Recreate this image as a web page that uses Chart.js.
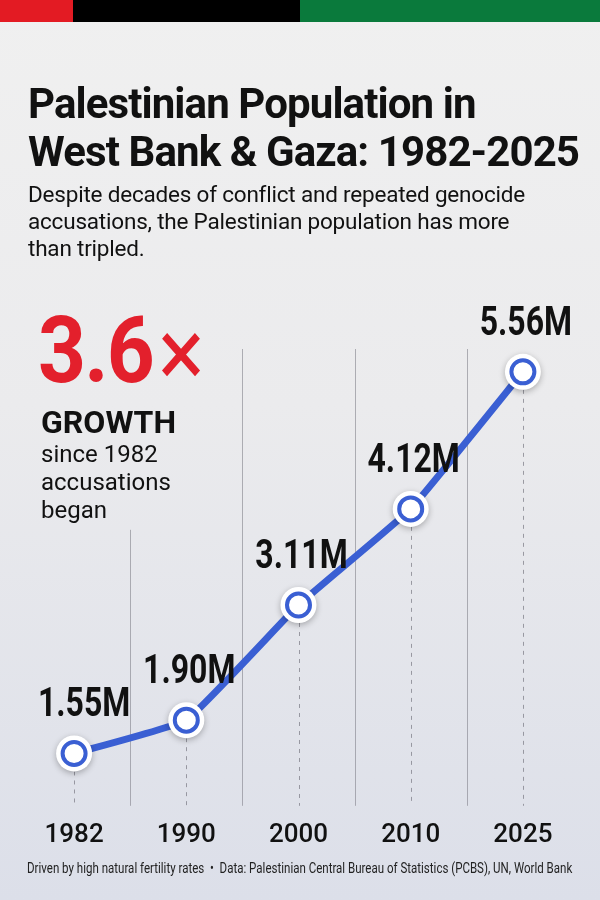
<!DOCTYPE html>
<html>
<head>
<meta charset="utf-8">
<script src="https://cdn.jsdelivr.net/npm/chart.js@4.4.1/dist/chart.umd.min.js"></script>
<style>
  html, body { margin: 0; padding: 0; }
  body {
    width: 600px; height: 900px; position: relative; overflow: hidden;
    background: linear-gradient(180deg, #f0f0f0 0%, #ebebed 45%, #dcdfe9 100%);
    font-family: Roboto, "Noto Sans", sans-serif; color: #111;
  }
  .stripe { position: absolute; top: 0; left: 0; width: 600px; height: 22px; display: flex; }
  .stripe div { height: 100%; }
  h1 {
    position: absolute; left: 28px; top: 80px; margin: 0;
    font-size: 42px; line-height: 48px; font-weight: 700; letter-spacing: -0.9px;
  }
  .sub {
    position: absolute; left: 28px; top: 181px; margin: 0; width: 570px;
    font-size: 22.5px; line-height: 27px; letter-spacing: -0.2px;
  }
  .big {
    position: absolute; left: 38px; top: 304px; font-size: 93px; line-height: 93px;
    font-weight: 700; color: #e3202c; transform: scaleX(0.9); transform-origin: left;
    letter-spacing: -2px; white-space: nowrap;
  }
  .big span { font-weight: 400; font-size: 96px; vertical-align: -4px; margin-left: 6px; }
  .growth {
    position: absolute; left: 41px; top: 406px; font-size: 32px; line-height: 32px; font-weight: 700;
  }
  .since {
    position: absolute; left: 41px; top: 440px; font-size: 24px; line-height: 28px;
  }
  #wrap { position: absolute; left: 0; top: 0; width: 600px; height: 900px; }
  .foot {
    position: absolute; left: 27px; top: 860px; transform-origin: left;
    font-size: 14px; color: #222; white-space: nowrap;
  }
</style>
</head>
<body>
<div class="stripe">
  <div style="width:73px;background:#e31b23"></div>
  <div style="width:227px;background:#000"></div>
  <div style="width:300px;background:#0a7a3c"></div>
</div>
<div id="wrap"><canvas id="chart"></canvas></div>
<h1>Palestinian Population in<br>West Bank &amp; Gaza: 1982-2025</h1>
<p class="sub">Despite decades of conflict and repeated genocide<br>accusations, the Palestinian population has more<br>than tripled.</p>
<div class="big">3.6<span>×</span></div>
<div class="growth">GROWTH</div>
<div class="since">since 1982<br>accusations<br>began</div>
<div class="foot" id="foot">Driven by high natural fertility rates &nbsp;•&nbsp; Data: Palestinian Central Bureau of Statistics (PCBS), UN, World Bank</div>

<script>
// data
const years = ["1982", "1990", "2000", "2010", "2025"];
const population = [1.55, 1.90, 3.11, 4.12, 5.56];
const labels = ["1.55M", "1.90M", "3.11M", "4.12M", "5.56M"];

const blue = "#3a5fd3";

// squeeze the footer into the same width as the reference
const foot = document.getElementById("foot");
foot.style.transform = "scaleX(" + (545 / foot.offsetWidth) + ")";

// vertical separators between years + dashed drop lines under each point
const guides = {
  id: "guides",
  beforeDatasetsDraw(chart) {
    const { ctx, chartArea } = chart;
    const meta = chart.getDatasetMeta(0);
    const y = chart.scales.y;
    ctx.save();
    ctx.lineWidth = 1;
    ctx.strokeStyle = "rgba(120,120,130,0.55)";
    for (let i = 1; i < meta.data.length; i++) {
      const x = (meta.data[i - 1].x + meta.data[i].x) / 2;
      // first one stops under the "GROWTH" note
      const top = i === 1 ? y.getPixelForValue(3.9) : chartArea.top;
      ctx.beginPath();
      ctx.moveTo(Math.round(x) + 0.5, top);
      ctx.lineTo(Math.round(x) + 0.5, chartArea.bottom);
      ctx.stroke();
    }
    ctx.setLineDash([4, 5]);
    ctx.strokeStyle = "rgba(120,120,130,0.7)";
    meta.data.forEach(pt => {
      ctx.beginPath();
      ctx.moveTo(Math.round(pt.x) + 0.5, pt.y);
      ctx.lineTo(Math.round(pt.x) + 0.5, chartArea.bottom);
      ctx.stroke();
    });
    ctx.restore();
  },
  beforeDatasetDraw(chart, args) {
    if (args.index === 1) {
      const ctx = chart.ctx;
      ctx.save();
      ctx.shadowColor = "rgba(0,0,0,0.28)";
      ctx.shadowBlur = 6;
      ctx.shadowOffsetY = 2;
    }
  },
  afterDatasetDraw(chart, args) {
    if (args.index === 1) chart.ctx.restore();
  },
  afterDatasetsDraw(chart) {
    const { ctx } = chart;
    const meta = chart.getDatasetMeta(0);
    ctx.save();
    ctx.fillStyle = "#111";
    ctx.font = "bold 40px Roboto";
    ctx.textAlign = "center";
    ctx.textBaseline = "alphabetic";
    meta.data.forEach((pt, i) => {
      ctx.save();
      ctx.translate(pt.x + (i === 0 ? 10 : 3), pt.y - 37);
      ctx.scale(0.8, 1);
      ctx.fillText(labels[i], 0, 0);
      ctx.restore();
    });
    ctx.restore();
  }
};

new Chart(document.getElementById("chart"), {
  type: "line",
  data: {
    labels: years,
    datasets: [
      {
        data: population, showLine: false, order: 0,
        pointRadius: 11.5, pointBorderWidth: 4,
        pointBackgroundColor: "#fff", pointBorderColor: blue
      },
      {
        data: population, showLine: false, order: 1,
        pointRadius: 18, pointBorderWidth: 0,
        pointBackgroundColor: "#fff", pointBorderColor: "#fff"
      },
      {
        data: population, order: 2,
        borderColor: blue, borderWidth: 7, pointRadius: 0,
        tension: 0.1, borderCapStyle: "round"
      }
    ]
  },
  options: {
    responsive: true,
    maintainAspectRatio: false,
    animation: false,
    layout: { padding: { top: 349, left: 13, right: 21, bottom: 43 } },
    plugins: { legend: { display: false }, tooltip: { enabled: false } },
    scales: {
      x: {
        offset: true,
        grid: { display: false },
        border: { display: false },
        ticks: {
          color: "#111", padding: 6,
          font: { family: "Roboto", size: 26, weight: "500" }
        }
      },
      y: { display: false, min: 1.0, max: 5.8 }
    }
  },
  plugins: [guides]
});
</script>
</body>
</html>
